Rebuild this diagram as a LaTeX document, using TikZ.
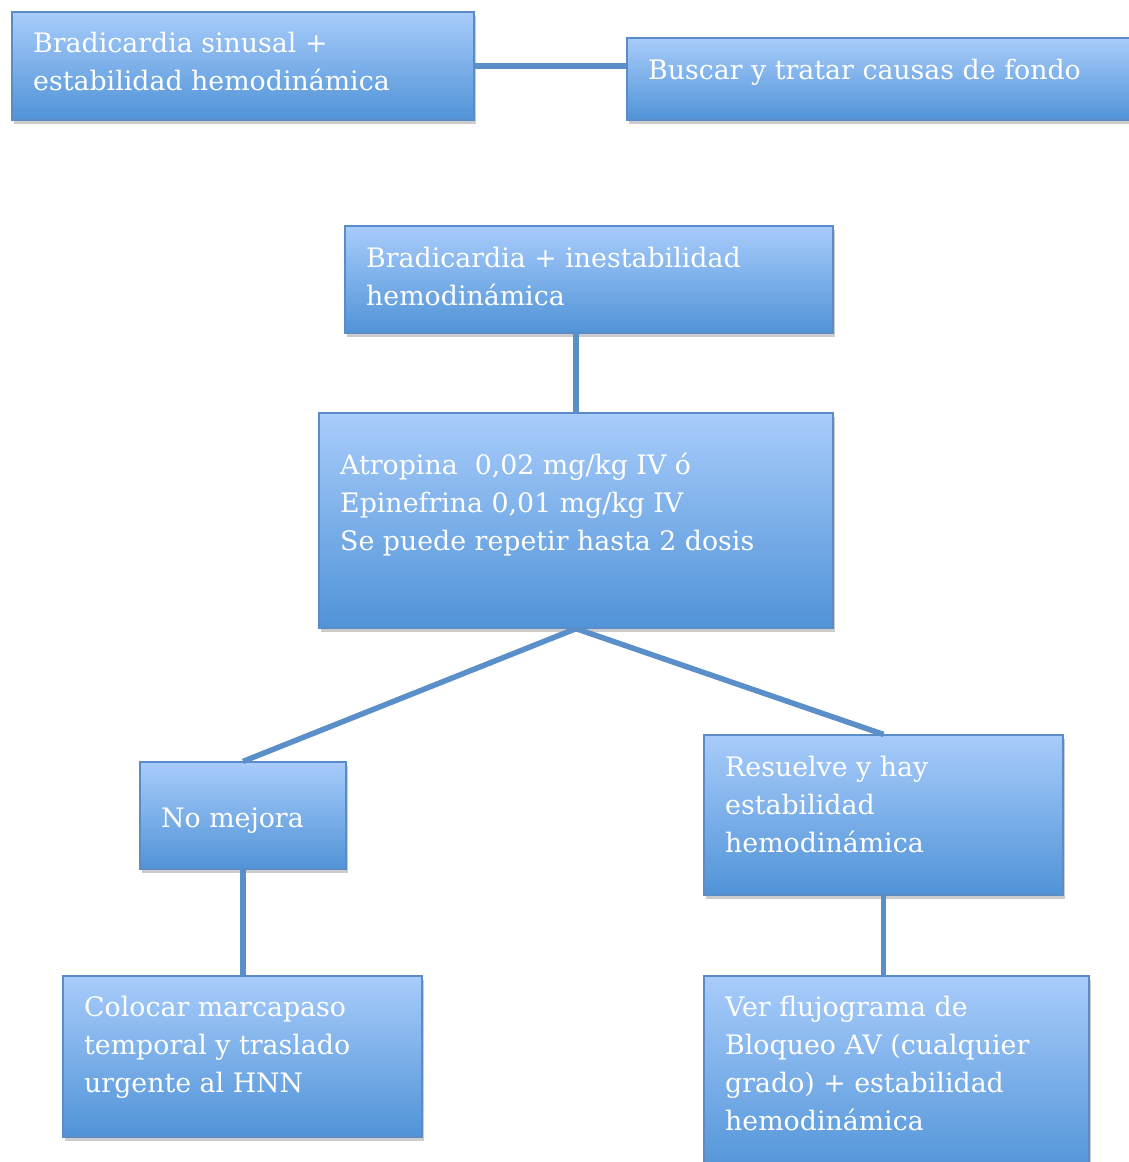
\documentclass[tikz,border=0pt]{standalone}
\usepackage{fontspec}
\setmainfont{DejaVu Serif}
\usetikzlibrary{shadows}
\definecolor{topc}{HTML}{A8CCFB}
\definecolor{botc}{HTML}{5093D7}
\definecolor{edgec}{HTML}{5A8DC8}
\definecolor{linec}{HTML}{5B8FC9}
\newcommand{\mylines}[1]{\begin{tabular}[t]{@{}l@{}}#1\end{tabular}}
\tikzset{
  box/.style={rectangle, draw=edgec, line width=1.2pt, top color=topc, bottom color=botc,
    inner sep=0pt, drop shadow={opacity=0.4, shadow xshift=2pt, shadow yshift=-3.5pt}},
  txt/.style={anchor=base west, text=white, inner sep=0pt,
    font=\fontsize{26.8}{38}\selectfont},
  conn/.style={draw=linec, line width=5.5pt}
}
\begin{document}
\begin{tikzpicture}[x=1pt,y=-1pt]
\useasboundingbox (0,0) rectangle (1129,1162);
\clip (0,0) rectangle (1129,1162);
% boxes
\node[box, minimum width=462pt, minimum height=108pt] (a) at (243,66) {};
\node[box, minimum width=520pt, minimum height=82pt] (b) at (887,79) {};
\node[box, minimum width=488pt, minimum height=107pt] (c) at (589,279.5) {};
\node[box, minimum width=514pt, minimum height=215pt] (d) at (576,520.5) {};
\node[box, minimum width=206pt, minimum height=107pt] (e) at (243,815.5) {};
\node[box, minimum width=359pt, minimum height=160pt] (f) at (883.5,815) {};
\node[box, minimum width=359pt, minimum height=161pt] (g) at (242.5,1056.5) {};
\node[box, minimum width=385pt, minimum height=200pt] (h) at (896.5,1076) {};
% connectors
\draw[conn] (a.east) -- (a.east -| b.west);
\draw[conn] (d.north) -- (d.north |- c.south);
\draw[conn] (d.south) -- (e.north);
\draw[conn] (d.south) -- (f.north);
\draw[conn] (e.south) -- (e.south |- g.north);
\draw[conn] (f.south) -- (f.south |- h.north);
% texts
\node[txt] (at) at (33,52) {\mylines{Bradicardia sinusal +\\estabilidad hemodinámica}};
\node[txt] (bt) at (648,79) {Buscar y tratar causas de fondo};
\node[txt] (ct) at (366,267) {\mylines{Bradicardia + inestabilidad\\hemodinámica}};
\node[txt] (dt) at (340,474) {\mylines{Atropina\ \ 0,02 mg/kg IV ó\\Epinefrina 0,01 mg/kg IV\\Se puede repetir hasta 2 dosis}};
\node[txt] (et) at (161,827) {No mejora};
\node[txt] (ft) at (725,776) {\mylines{Resuelve y hay\\estabilidad\\hemodinámica}};
\node[txt] (gt) at (84,1016) {\mylines{Colocar marcapaso\\temporal y traslado\\urgente al HNN}};
\node[txt] (ht) at (725,1016) {\mylines{Ver flujograma de\\Bloqueo AV (cualquier\\grado) + estabilidad\\hemodinámica}};
\end{tikzpicture}
\end{document}
